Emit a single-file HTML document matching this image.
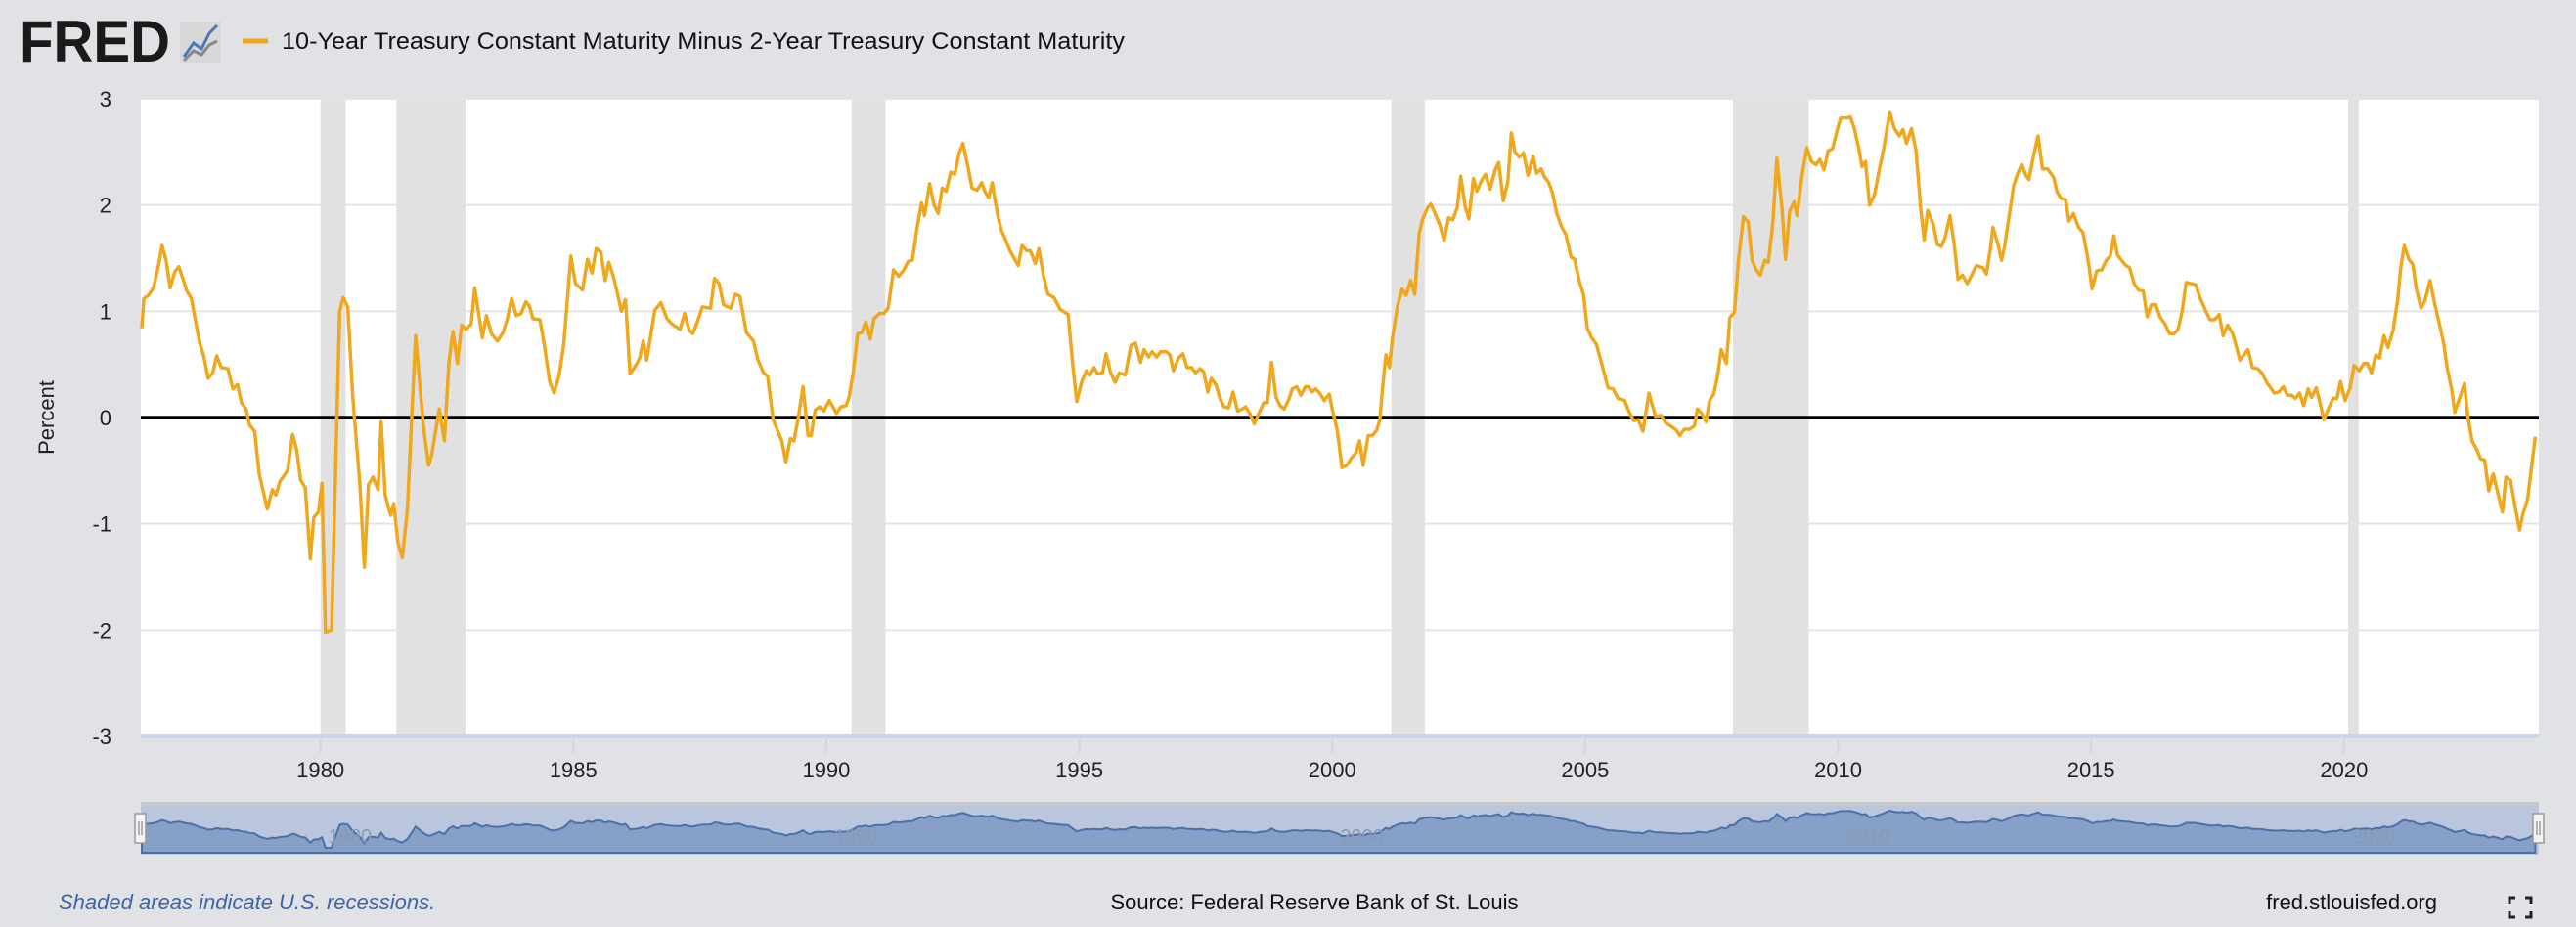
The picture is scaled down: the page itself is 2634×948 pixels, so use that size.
<!DOCTYPE html>
<html><head><meta charset="utf-8"><style>
body{margin:0;width:2634px;height:948px;background:#e1e2e5;overflow:hidden;font-family:"Liberation Sans",sans-serif}
svg{display:block}
</style></head><body>
<svg id="c" width="2634" height="948" xmlns="http://www.w3.org/2000/svg">
<rect width="2634" height="948" fill="#e1e2e5"/>
<g>
<text x="20" y="63" font-size="60" font-weight="bold" fill="#1a1a1a" textLength="154" lengthAdjust="spacingAndGlyphs">FRED</text>
<rect x="184" y="22" width="42" height="42" fill="#d8d8d8"/>
<polyline points="188,58 198,44 206,50 214,34 222,26" fill="none" stroke="#4a78b8" stroke-width="3"/>
<polyline points="188,62 198,52 206,56 214,46 222,42" fill="none" stroke="#888" stroke-width="3"/>
</g>
<line x1="248" y1="42" x2="274" y2="42" stroke="#efa81d" stroke-width="5"/>
<text x="288" y="50" font-size="24" fill="#111" textLength="862" lengthAdjust="spacingAndGlyphs">10-Year Treasury Constant Maturity Minus 2-Year Treasury Constant Maturity</text>
<g id="plot"></g>
<text transform="translate(55,427) rotate(-90)" text-anchor="middle" font-size="22" fill="#222">Percent</text>
<text x="60" y="930" font-size="22" font-style="italic" fill="#3d66a8">Shaded areas indicate U.S. recessions.</text>
<text x="1344" y="930" text-anchor="middle" font-size="22" fill="#111">Source: Federal Reserve Bank of St. Louis</text>
<text x="2492" y="930" text-anchor="end" font-size="22" fill="#111">fred.stlouisfed.org</text>
<g stroke="#222" stroke-width="3" fill="none">
<polyline points="2566,924 2566,918 2572,918"/><polyline points="2582,918 2588,918 2588,924"/>
<polyline points="2566,932 2566,938 2572,938"/><polyline points="2582,938 2588,938 2588,932"/>
</g>
</svg>
<script>
const years=[1976.47,1976.51,1976.6,1976.7,1976.79,1976.87,1976.95,1977.03,1977.12,1977.2,1977.28,1977.36,1977.45,1977.55,1977.62,1977.69,1977.78,1977.87,1977.95,1978.04,1978.17,1978.27,1978.36,1978.44,1978.53,1978.6,1978.7,1978.79,1978.95,1979.05,1979.12,1979.2,1979.35,1979.45,1979.53,1979.61,1979.7,1979.8,1979.87,1979.96,1980.03,1980.1,1980.22,1980.38,1980.45,1980.54,1980.64,1980.78,1980.87,1980.95,1981.04,1981.14,1981.2,1981.28,1981.39,1981.45,1981.53,1981.62,1981.72,1981.88,1982.04,1982.14,1982.2,1982.35,1982.45,1982.54,1982.62,1982.71,1982.79,1982.88,1982.98,1983.05,1983.2,1983.28,1983.38,1983.5,1983.61,1983.69,1983.78,1983.87,1983.97,1984.06,1984.13,1984.2,1984.34,1984.43,1984.53,1984.62,1984.72,1984.81,1984.95,1985.04,1985.18,1985.28,1985.37,1985.45,1985.54,1985.63,1985.7,1985.79,1985.89,1985.95,1986.03,1986.12,1986.21,1986.31,1986.38,1986.45,1986.61,1986.73,1986.85,1986.95,1987.11,1987.2,1987.29,1987.36,1987.45,1987.55,1987.71,1987.79,1987.88,1987.97,1988.11,1988.2,1988.29,1988.42,1988.56,1988.65,1988.76,1988.84,1988.95,1989.12,1989.2,1989.29,1989.36,1989.45,1989.54,1989.64,1989.7,1989.78,1989.87,1989.95,1990.06,1990.2,1990.29,1990.39,1990.45,1990.53,1990.62,1990.7,1990.78,1990.87,1990.94,1991.05,1991.14,1991.22,1991.33,1991.43,1991.52,1991.62,1991.7,1991.79,1991.88,1991.94,1992.04,1992.13,1992.21,1992.29,1992.37,1992.46,1992.54,1992.62,1992.7,1992.79,1992.88,1992.98,1993.07,1993.14,1993.21,1993.28,1993.38,1993.46,1993.53,1993.63,1993.7,1993.79,1993.87,1993.96,1994.03,1994.13,1994.2,1994.29,1994.38,1994.5,1994.62,1994.71,1994.78,1994.87,1994.95,1995.05,1995.14,1995.21,1995.29,1995.36,1995.46,1995.53,1995.62,1995.71,1995.79,1995.91,1996.02,1996.11,1996.21,1996.28,1996.37,1996.44,1996.53,1996.61,1996.72,1996.79,1996.86,1996.96,1997.05,1997.13,1997.22,1997.3,1997.39,1997.46,1997.54,1997.61,1997.7,1997.78,1997.86,1997.95,1998.04,1998.13,1998.22,1998.29,1998.38,1998.46,1998.55,1998.65,1998.72,1998.8,1998.89,1998.97,1999.05,1999.14,1999.21,1999.3,1999.38,1999.47,1999.53,1999.6,1999.67,1999.75,1999.84,1999.94,2000.0,2000.1,2000.19,2000.29,2000.38,2000.47,2000.54,2000.61,2000.71,2000.79,2000.88,2000.94,2000.99,2001.06,2001.13,2001.19,2001.29,2001.38,2001.46,2001.55,2001.63,2001.72,2001.79,2001.88,2001.95,2002.05,2002.13,2002.21,2002.3,2002.38,2002.47,2002.54,2002.63,2002.7,2002.79,2002.86,2002.95,2003.03,2003.12,2003.22,2003.29,2003.38,2003.47,2003.54,2003.61,2003.7,2003.78,2003.87,2003.97,2004.04,2004.13,2004.2,2004.27,2004.35,2004.44,2004.53,2004.62,2004.72,2004.79,2004.88,2004.97,2005.04,2005.13,2005.22,2005.32,2005.45,2005.55,2005.65,2005.78,2005.86,2005.96,2006.05,2006.14,2006.26,2006.39,2006.5,2006.59,2006.72,2006.8,2006.87,2006.96,2007.06,2007.16,2007.22,2007.3,2007.39,2007.46,2007.54,2007.61,2007.69,2007.79,2007.86,2007.95,2008.03,2008.13,2008.22,2008.3,2008.38,2008.46,2008.55,2008.62,2008.71,2008.79,2008.89,2008.96,2009.04,2009.13,2009.19,2009.28,2009.38,2009.47,2009.56,2009.64,2009.72,2009.8,2009.89,2009.99,2010.05,2010.17,2010.24,2010.32,2010.41,2010.47,2010.54,2010.62,2010.72,2010.82,2010.9,2010.96,2011.02,2011.11,2011.21,2011.28,2011.35,2011.45,2011.54,2011.63,2011.7,2011.77,2011.88,2011.96,2012.04,2012.11,2012.21,2012.3,2012.37,2012.46,2012.55,2012.65,2012.73,2012.86,2012.93,2013.01,2013.06,2013.16,2013.23,2013.29,2013.38,2013.47,2013.55,2013.63,2013.71,2013.77,2013.86,2013.95,2014.04,2014.14,2014.26,2014.33,2014.41,2014.5,2014.56,2014.65,2014.75,2014.84,2014.93,2015.02,2015.11,2015.21,2015.3,2015.38,2015.45,2015.52,2015.6,2015.69,2015.76,2015.85,2015.94,2016.03,2016.11,2016.19,2016.28,2016.36,2016.46,2016.55,2016.64,2016.72,2016.8,2016.88,2016.98,2017.07,2017.15,2017.25,2017.35,2017.44,2017.53,2017.61,2017.7,2017.8,2017.86,2017.94,2018.02,2018.1,2018.19,2018.29,2018.38,2018.47,2018.55,2018.62,2018.71,2018.8,2018.88,2018.96,2019.04,2019.12,2019.2,2019.29,2019.36,2019.45,2019.53,2019.6,2019.69,2019.78,2019.86,2019.93,2020.02,2020.12,2020.2,2020.3,2020.39,2020.46,2020.54,2020.63,2020.7,2020.79,2020.87,2020.97,2021.06,2021.12,2021.19,2021.28,2021.36,2021.43,2021.52,2021.6,2021.7,2021.8,2021.89,2021.97,2022.04,2022.13,2022.19,2022.29,2022.38,2022.44,2022.53,2022.62,2022.7,2022.78,2022.86,2022.95,2023.05,2023.13,2023.2,2023.29,2023.39,2023.47,2023.53,2023.63,2023.78];
const values=[0.84,1.12,1.15,1.22,1.41,1.62,1.48,1.22,1.37,1.42,1.31,1.19,1.12,0.86,0.69,0.59,0.37,0.42,0.58,0.47,0.46,0.27,0.31,0.14,0.08,-0.07,-0.13,-0.53,-0.86,-0.68,-0.73,-0.6,-0.5,-0.16,-0.3,-0.59,-0.66,-1.33,-0.94,-0.89,-0.62,-2.02,-2.0,1.0,1.13,1.04,0.19,-0.63,-1.41,-0.63,-0.56,-0.68,-0.04,-0.73,-0.92,-0.81,-1.17,-1.32,-0.86,0.77,-0.1,-0.45,-0.35,0.08,-0.22,0.52,0.81,0.51,0.87,0.83,0.88,1.22,0.75,0.96,0.79,0.72,0.8,0.92,1.12,0.96,0.98,1.09,1.05,0.93,0.92,0.67,0.34,0.23,0.4,0.69,1.52,1.26,1.2,1.49,1.36,1.59,1.56,1.29,1.46,1.33,1.13,1.0,1.11,0.41,0.47,0.56,0.72,0.54,1.01,1.08,0.93,0.88,0.83,0.98,0.82,0.79,0.9,1.04,1.03,1.31,1.26,1.06,1.03,1.16,1.14,0.8,0.72,0.54,0.42,0.39,-0.02,-0.22,-0.42,-0.2,-0.22,0.01,0.29,-0.17,-0.17,0.07,0.1,0.06,0.16,0.04,0.1,0.11,0.19,0.42,0.79,0.8,0.9,0.74,0.93,0.98,0.98,1.03,1.39,1.33,1.38,1.47,1.48,1.77,2.02,1.9,2.2,2.0,1.92,2.16,2.13,2.31,2.29,2.48,2.58,2.38,2.16,2.14,2.21,2.12,2.07,2.21,1.92,1.76,1.69,1.57,1.51,1.43,1.62,1.57,1.57,1.45,1.59,1.34,1.16,1.13,1.02,0.99,0.97,0.49,0.15,0.34,0.44,0.4,0.47,0.41,0.42,0.6,0.42,0.33,0.42,0.4,0.68,0.7,0.52,0.64,0.57,0.62,0.57,0.62,0.62,0.59,0.44,0.56,0.6,0.47,0.47,0.42,0.46,0.43,0.24,0.37,0.31,0.18,0.1,0.09,0.24,0.06,0.08,0.1,0.03,-0.06,0.04,0.14,0.14,0.52,0.19,0.11,0.08,0.17,0.27,0.29,0.21,0.29,0.29,0.24,0.27,0.23,0.16,0.22,0.08,-0.12,-0.47,-0.45,-0.38,-0.33,-0.22,-0.45,-0.17,-0.17,-0.12,-0.02,0.26,0.59,0.47,0.75,1.05,1.21,1.15,1.29,1.16,1.74,1.87,1.97,2.01,1.9,1.81,1.67,1.88,1.86,1.97,2.27,1.98,1.87,2.25,2.13,2.23,2.29,2.15,2.33,2.4,2.04,2.21,2.68,2.5,2.45,2.49,2.28,2.46,2.3,2.34,2.26,2.22,2.12,1.92,1.8,1.72,1.51,1.49,1.29,1.15,0.84,0.75,0.69,0.52,0.28,0.27,0.18,0.16,0.06,-0.03,-0.02,-0.13,0.23,0.01,0.02,-0.05,-0.09,-0.12,-0.17,-0.11,-0.11,-0.08,0.08,0.04,-0.04,0.16,0.22,0.37,0.64,0.51,0.94,0.99,1.48,1.89,1.84,1.48,1.39,1.34,1.48,1.46,1.84,2.44,1.97,1.49,1.94,2.03,1.9,2.26,2.54,2.41,2.38,2.43,2.33,2.51,2.53,2.72,2.82,2.82,2.83,2.72,2.53,2.36,2.41,2.0,2.1,2.35,2.53,2.7,2.87,2.72,2.65,2.71,2.58,2.72,2.51,1.97,1.67,1.95,1.82,1.63,1.61,1.69,1.9,1.61,1.3,1.34,1.26,1.35,1.43,1.41,1.35,1.59,1.79,1.63,1.48,1.61,1.9,2.18,2.3,2.38,2.28,2.24,2.46,2.65,2.34,2.34,2.26,2.12,2.06,2.05,1.85,1.92,1.79,1.74,1.51,1.21,1.38,1.39,1.48,1.52,1.71,1.53,1.48,1.43,1.41,1.26,1.2,1.19,0.95,1.06,1.06,0.95,0.88,0.79,0.79,0.83,1.0,1.27,1.26,1.25,1.13,1.02,0.92,0.92,0.97,0.77,0.87,0.79,0.69,0.54,0.59,0.64,0.47,0.46,0.42,0.33,0.28,0.23,0.24,0.29,0.21,0.21,0.18,0.23,0.11,0.27,0.19,0.28,0.13,-0.02,0.08,0.18,0.18,0.34,0.16,0.28,0.49,0.44,0.51,0.51,0.42,0.59,0.56,0.77,0.66,0.82,1.11,1.41,1.62,1.49,1.44,1.21,1.03,1.1,1.29,1.05,0.87,0.7,0.46,0.26,0.05,0.19,0.32,0.03,-0.22,-0.3,-0.39,-0.4,-0.69,-0.53,-0.73,-0.89,-0.56,-0.59,-0.86,-1.06,-0.92,-0.76,-0.18];
const yTicks=[3,2,1,0,-1,-2,-3];
const xTicks=[1980,1985,1990,1995,2000,2005,2010,2015,2020];
const navTicks=[1980,1990,2000,2010,2020];
const recStart=[1980.0,1981.5,1990.5,2001.17,2007.92,2020.08];
const recEnd=[1980.5,1982.87,1991.17,2001.83,2009.42,2020.29];

const NS="http://www.w3.org/2000/svg";
const L=144,R=2596,T=101,B=753,X0=1976.45,X1=2023.85;
const xs=v=>L+(v-X0)/(X1-X0)*(R-L);
const ys=v=>T+(3-v)/6*(B-T);
const g=document.getElementById('plot');
function mk(tag,at,parent){const e=document.createElementNS(NS,tag);for(const k in at)e.setAttribute(k,at[k]);(parent||g).appendChild(e);return e;}

let bg=mk('rect',{x:L,y:T,width:R-L,height:B-T,fill:'#fff'});


recStart.forEach((s,i)=>{
  const r=mk('rect',{x:xs(s),y:T,width:xs(recEnd[i])-xs(s),height:B-T,fill:'#e1e1e1'});
  
  
});
yTicks.forEach(t=>{
  if(t!==0&&t!==-3){const l=mk('line',{x1:L,x2:R,y1:ys(t),y2:ys(t),stroke:'#e4e4e4','stroke-width':2});
  
  }
  const tx=mk('text',{x:114,y:ys(t)+8,'text-anchor':'end','font-size':22,fill:'#222'});tx.textContent=t;
  
  
});
const ax=mk('line',{x1:L,x2:R,y1:B,y2:B,stroke:'#ccd6eb','stroke-width':4});


xTicks.forEach(t=>{
  const tk=mk('line',{x1:xs(t),x2:xs(t),y1:B,y2:B+17,stroke:'#ccd6eb','stroke-width':2});
  
  
  const tx=mk('text',{x:xs(t),y:795,'text-anchor':'middle','font-size':22,fill:'#222'});tx.textContent=t;
  
  
});
const z=mk('line',{x1:L,x2:R,y1:ys(0),y2:ys(0),stroke:'#000','stroke-width':3.5});


const pts=years.map((y,i)=>xs(y).toFixed(1)+','+ys(values[i]).toFixed(1)).join(' ');
const line=mk('polyline',{points:pts,fill:'none',stroke:'#efa81d','stroke-width':3.5,'stroke-linejoin':'round'});



// navigator
const NT=822,NB=872;
const nys=v=>NT+6+(3-v)/(3-(-2.4))*(NB-NT-8);
const nbg=mk('rect',{x:L,y:NT,width:R-L,height:NB-NT,fill:'#b9c6dd'});


mk('line',{x1:L,x2:R,y1:NT,y2:NT,stroke:'#c8c8c8','stroke-width':4});
mk('line',{x1:L,x2:R,y1:NB,y2:NB,stroke:'#c8c8c8','stroke-width':4});
const npts=years.map((y,i)=>xs(y).toFixed(1)+','+nys(values[i]).toFixed(1));
const area=mk('polygon',{points:xs(years[0])+','+NB+' '+npts.join(' ')+' '+xs(years[years.length-1])+','+NB,fill:'#86a0c8',stroke:'#4b70a8','stroke-width':2});


navTicks.forEach(t=>{
  const tx=mk('text',{x:xs(t)+8,y:862,'font-size':20,fill:'#8a9ab5'});tx.textContent=t;
  
  
});
[L-4,R-4].forEach((hx,i)=>{
  const h=mk('rect',{x:hx-2,y:832,width:11,height:30,fill:'#f2f2f2',stroke:'#999','stroke-width':1.5});
  
  
  mk('line',{x1:hx+2,x2:hx+2,y1:840,y2:854,stroke:'#777','stroke-width':1});
  mk('line',{x1:hx+5,x2:hx+5,y1:840,y2:854,stroke:'#777','stroke-width':1});
});
</script>
</body></html>
